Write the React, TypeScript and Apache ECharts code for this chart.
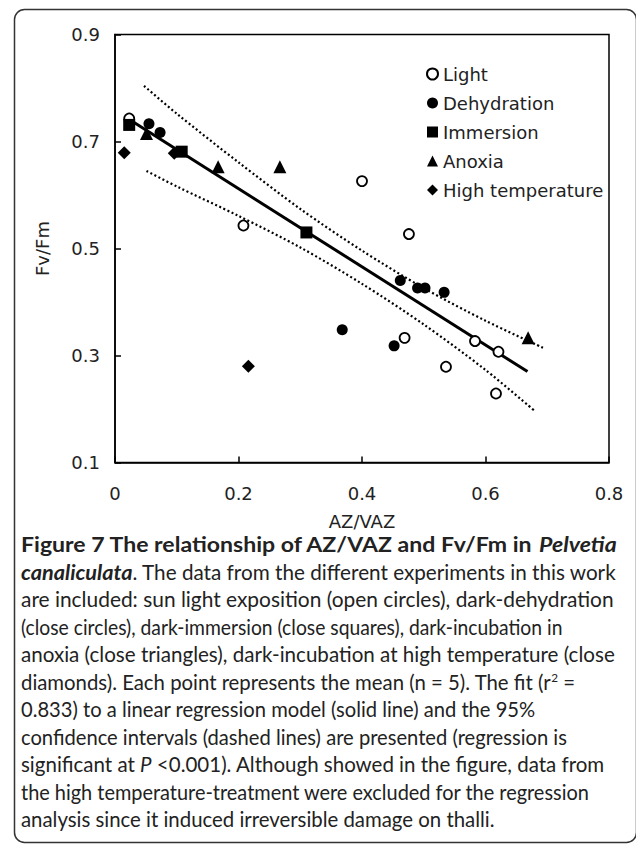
import React, { useEffect, useRef } from "react";
import * as echarts from "echarts";

// ---- data ----
const xTickLabels = ["0", "0.2", "0.4", "0.6", "0.8"];
const yTickLabels = ["0.1", "0.3", "0.5", "0.7", "0.9"];

const lightPts = [
  [0.023, 0.743], [0.208, 0.543], [0.400, 0.626], [0.476, 0.527], [0.469, 0.333],
  [0.536, 0.279], [0.583, 0.327], [0.621, 0.307], [0.617, 0.229],
];
const dehydrationPts = [
  [0.055, 0.733], [0.073, 0.717], [0.368, 0.348], [0.452, 0.318],
  [0.462, 0.440], [0.490, 0.426], [0.502, 0.426], [0.533, 0.418],
];
const immersionPts = [[0.023, 0.731], [0.108, 0.681], [0.310, 0.530]];
const anoxiaPts = [[0.051, 0.715], [0.167, 0.653], [0.267, 0.653], [0.669, 0.333]];
const highTempPts = [[0.015, 0.679], [0.096, 0.678], [0.216, 0.280]];

const fitLine = [[0.022, 0.742], [0.668, 0.270]];
const upperBand = [
  [0.047, 0.804], [0.10, 0.752], [0.20, 0.661], [0.30, 0.574], [0.40, 0.496],
  [0.50, 0.426], [0.60, 0.365], [0.694, 0.314],
];
const lowerBand = [
  [0.051, 0.645], [0.10, 0.616], [0.20, 0.561], [0.30, 0.502], [0.40, 0.434],
  [0.50, 0.358], [0.60, 0.273], [0.679, 0.197],
];

const seriesNames = ["Light", "Dehydration", "Immersion", "Anoxia", "High temperature"];

const captionLines = [
  "{b|Figure 7 The relationship of AZ/VAZ and Fv/Fm in }{bi|Pelvetia}",
  "{bi|canaliculata}{n|. The data from the different experiments in this work}",
  "{n|are included: sun light exposition (open circles), dark-dehydration}",
  "{n|(close circles), dark-immersion (close squares), dark-incubation in}",
  "{n|anoxia (close triangles), dark-incubation at high temperature (close}",
  "{n|diamonds). Each point represents the mean (n = 5). The fit (r}{sup|2}{n| =}",
  "{n|0.833) to a linear regression model (solid line) and the 95%}",
  "{n|confidence intervals (dashed lines) are presented (regression is}",
  "{n|significant at }{i|P}{n| <0.001). Although showed in the figure, data from}",
  "{n|the high temperature-treatment were excluded for the regression}",
  "{n|analysis since it induced irreversible damage on thalli.}",
];
// right end (px) of each caption line in the reference
const captionLineEnds = [617, 617, 614, 563, 615, 575, 536, 567, 605, 590, 495];

const AXIS_FONT = "DejaVu Sans";
const CAP_FONT = "Lato";
const CAP_SIZE = 20.8;
const CAP_BOLD_SIZE = 21.8;
const CAP_LH = 27.5;
const CAP_X = 21;
const CAP_Y0 = 544;

const segFonts: Record<string, string> = {
  n: `${CAP_SIZE}px ${CAP_FONT}`,
  b: `bold ${CAP_BOLD_SIZE}px ${CAP_FONT}`,
  bi: `italic bold ${CAP_BOLD_SIZE}px ${CAP_FONT}`,
  i: `italic ${CAP_SIZE}px ${CAP_FONT}`,
  sup: `12px ${CAP_FONT}`,
};

function measureLine(ctx: CanvasRenderingContext2D | null, line: string): number {
  if (!ctx) return 0;
  let w = 0;
  const re = /\{(\w+)\|([^}]*)\}/g;
  let m: RegExpExecArray | null;
  while ((m = re.exec(line))) {
    ctx.font = segFonts[m[1]] || segFonts.n;
    w += ctx.measureText(m[2]).width;
  }
  return w;
}

export default function App() {
  const ref = useRef<HTMLDivElement>(null);
  useEffect(() => {
    if (!ref.current) return;
    const chart = echarts.init(ref.current, null, { renderer: "svg" });
    const axisLineStyle = { color: "#000", width: 1.5 };
    const tickText = { fontFamily: AXIS_FONT, fontSize: 18, color: "#222" };
    const capBase = { fontFamily: CAP_FONT, fontSize: CAP_SIZE, lineHeight: 20, fill: "#222" };
    const rich = {
      n: { ...capBase },
      b: { ...capBase, fontSize: CAP_BOLD_SIZE, fontWeight: "bold" },
      bi: { ...capBase, fontSize: CAP_BOLD_SIZE, fontWeight: "bold", fontStyle: "italic" },
      i: { ...capBase, fontStyle: "italic" },
      sup: { fontFamily: CAP_FONT, fontSize: 12, lineHeight: 12, fill: "#222", verticalAlign: "top", padding: [0, 0, 8, 0] },
    };
    const ctx = document.createElement("canvas").getContext("2d");
    const captionGraphics = captionLines.map((line, i) => {
      const natural = measureLine(ctx, line);
      const target = captionLineEnds[i] - CAP_X;
      let sx = natural > 0 ? target / natural : 1;
      sx = Math.max(0.88, Math.min(1.1, sx));
      return {
        type: "text", x: CAP_X, y: CAP_Y0 + i * CAP_LH, scaleX: sx, silent: true,
        style: { text: line, ...capBase, verticalAlign: "middle", align: "left", rich },
      };
    });
    const option: any = {
      animation: false,
      backgroundColor: "#fff",
      grid: {
        left: 115, right: 27, top: 34.5, bottom: 385.5,
        show: true, borderColor: "#000", borderWidth: 1.5, backgroundColor: "transparent",
      },
      xAxis: {
        type: "value", min: 0, max: 0.8, interval: 0.2,
        axisLine: { show: true, lineStyle: axisLineStyle },
        axisTick: { show: true, inside: true, length: 6, lineStyle: axisLineStyle },
        axisLabel: { ...tickText, margin: 22, formatter: (v: number, i: number) => xTickLabels[i] ?? String(v) },
        splitLine: { show: false },
        name: "AZ/VAZ", nameLocation: "middle", nameGap: 50,
        nameTextStyle: { fontFamily: AXIS_FONT, fontSize: 18, color: "#222", lineHeight: 18 },
      },
      yAxis: {
        type: "value", min: 0.1, max: 0.9, interval: 0.2,
        axisLine: { show: true, lineStyle: axisLineStyle },
        axisTick: { show: true, inside: true, length: 6, lineStyle: axisLineStyle },
        axisLabel: { ...tickText, margin: 15, formatter: (v: number, i: number) => yTickLabels[i] ?? String(v) },
        splitLine: { show: false },
        name: "Fv/Fm", nameLocation: "middle", nameGap: 64, nameRotate: 90,
        nameTextStyle: { fontFamily: AXIS_FONT, fontSize: 18, color: "#222" },
      },
      legend: {
        orient: "vertical", left: 421, top: 60, itemGap: 11,
        itemWidth: 11, itemHeight: 11,
        data: seriesNames,
        textStyle: { fontFamily: AXIS_FONT, fontSize: 18, color: "#222", lineHeight: 18 },
      },
      series: [
        { type: "line", data: upperBand, symbol: "none", smooth: 0.3, z: 1, silent: true,
          lineStyle: { color: "#000", width: 2.2, type: [2, 2.5] } },
        { type: "line", data: lowerBand, symbol: "none", smooth: 0.3, z: 1, silent: true,
          lineStyle: { color: "#000", width: 2.2, type: [2, 2.5] } },
        { type: "line", data: fitLine, symbol: "none", z: 1, silent: true,
          lineStyle: { color: "#000", width: 3 } },
        { name: "Light", type: "scatter", data: lightPts, symbol: "circle", symbolSize: 10, z: 3,
          itemStyle: { color: "#fff", borderColor: "#000", borderWidth: 1.8, opacity: 1 } },
        { name: "Dehydration", type: "scatter", data: dehydrationPts, symbol: "circle", symbolSize: 11, z: 3,
          itemStyle: { color: "#000", opacity: 1 } },
        { name: "Immersion", type: "scatter", data: immersionPts, symbol: "rect", symbolSize: 12, z: 3,
          itemStyle: { color: "#000", opacity: 1 } },
        { name: "Anoxia", type: "scatter", data: anoxiaPts, symbol: "triangle", symbolSize: 13, z: 3,
          itemStyle: { color: "#000", opacity: 1 } },
        { name: "High temperature", type: "scatter", data: highTempPts, symbol: "diamond", symbolSize: 13, z: 3,
          itemStyle: { color: "#000", opacity: 1 } },
      ],
      graphic: [
        { type: "rect", left: 12, top: 7, z: -1, silent: true,
          shape: { x: 0, y: 0, width: 622, height: 833, r: 10 },
          style: { fill: "none", stroke: "#333", lineWidth: 1.5 } },
        ...captionGraphics,
      ],
    };
    chart.setOption(option);
    return () => chart.dispose();
  }, []);
  return (
    <div
      ref={ref}
      style={{ position: "absolute", left: 0, top: 0, width: 636, height: 848, background: "#fff" }}
    />
  );
}
